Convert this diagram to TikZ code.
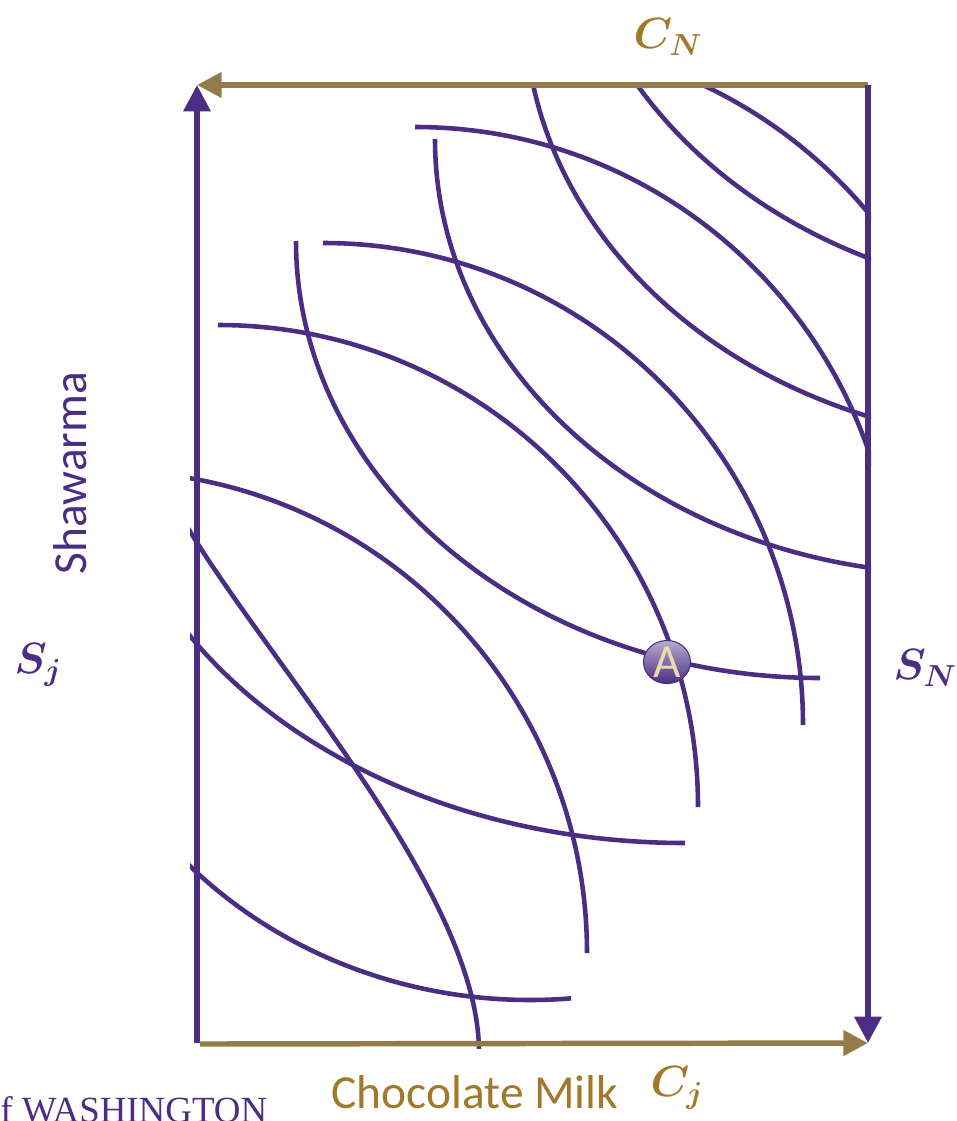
\documentclass[tikz,border=0pt]{standalone}
\usepackage{fontspec}
\setmainfont{Carlito}
\newfontfamily\uwfont{Liberation Serif}
\usepackage{bm}
\usetikzlibrary{arrows.meta,shapes.geometric}

\definecolor{uwpurple}{RGB}{75,46,131}
\definecolor{axisgold}{RGB}{148,124,74}
\definecolor{labelgold}{RGB}{160,122,42}
\definecolor{pointtext}{RGB}{236,218,168}

\tikzset{
  purpleaxis/.style={uwpurple,line width=3.1pt,-{Triangle[length=15pt,width=15pt]}},
  goldaxis/.style={axisgold,line width=3.1pt,-{Triangle[length=14pt,width=14pt]}},
  icurve/.style={uwpurple,line width=2.6pt},
  biglabel/.style={font=\fontsize{27}{30}\selectfont},
  mathlabel/.style={font=\fontsize{26}{28}\selectfont}
}

\begin{document}
\begin{tikzpicture}[x=0.2mm,y=-0.2mm]
\useasboundingbox (0,0) rectangle (956,1121);
\clip (0,0) rectangle (956,1121);

% corners of the box
\coordinate (Oj) at (197,1043);
\coordinate (On) at (868,85);
\coordinate (TL) at (197,85);
\coordinate (BR) at (868,1043);
\coordinate (Bstart) at (200,1044);

% indifference curves
\begin{scope}
\clip (190,84) rectangle (871,1048);
% J
\draw[icurve] (59,565) arc[start angle=180,end angle=85,x radius=471,y radius=435];
\draw[icurve] (104,408) arc[start angle=180,end angle=90,x radius=581,y radius=435];
\draw[icurve] (296,241) arc[start angle=180,end angle=90,x radius=524,y radius=437];
\draw[icurve] (435,139) arc[start angle=180,end angle=90,x radius=524,y radius=435];
\draw[icurve] (525,8) arc[start angle=180,end angle=90,x radius=524,y radius=435];
\draw[icurve] (564,-137) arc[start angle=180,end angle=90,x radius=524,y radius=435];
% N
\draw[icurve] (188,528) .. controls (271,666) and (479,894) .. (479,1052);
\draw[icurve] (107,471) arc[start angle=-90,end angle=0,x radius=480,y radius=482];
\draw[icurve] (218,325) arc[start angle=-90,end angle=0,x radius=480,y radius=482];
\draw[icurve] (323,243) arc[start angle=-90,end angle=0,x radius=480,y radius=482];
\draw[icurve] (415,127) arc[start angle=-90,end angle=0,x radius=480,y radius=482];
\draw[icurve] (500,40) arc[start angle=-90,end angle=0,x radius=480,y radius=482];
\end{scope}

% axes
\draw[purpleaxis] (Oj) -- (TL);
\draw[goldaxis] (On) -- (TL);
\draw[purpleaxis] (On) -- (BR);
\draw[goldaxis] (Bstart) -- (BR);

% point A
\node[ellipse,draw=uwpurple,line width=0.6pt,top color=uwpurple!40,bottom color=uwpurple,
  minimum width=9.4mm,minimum height=7.8mm,inner sep=0pt,text=pointtext,
  font=\fontsize{27}{27}\selectfont] (A) at (667,662) {A};

% labels
\node[mathlabel,text=labelgold] (CN) at (668,37) {$\bm{C_N}$};
\node[mathlabel,text=uwpurple] (Sj) at (38,665) {$\bm{S_j}$};
\node[mathlabel,text=uwpurple] (SN) at (925,668) {$\bm{S_N}$};
\node[mathlabel,text=labelgold] (Cj) at (677,1088) {$\bm{C_j}$};
\node[biglabel,text=labelgold] (milk) at (475,1092) {Chocolate Milk};
\node[biglabel,text=uwpurple,rotate=90] (shaw) at (70,473) {Shawarma};
\node[text=uwpurple,anchor=base west,inner sep=0pt,font=\uwfont\fontsize{21}{21}\selectfont] (uw) at (0,1122) {f WASHINGTON};
\end{tikzpicture}
\end{document}
